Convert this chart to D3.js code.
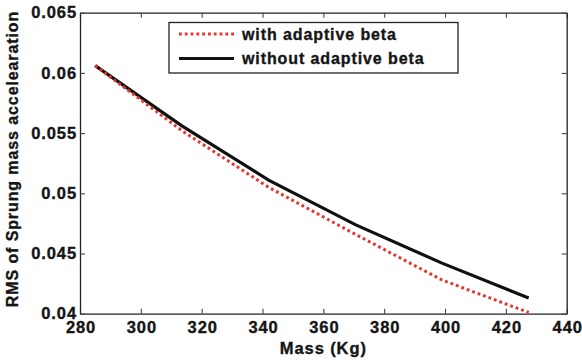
<!DOCTYPE html>
<html>
<head>
<meta charset="utf-8">
<script src="https://cdn.jsdelivr.net/npm/d3@7"></script>
<style>
  body { margin: 0; background: #fff; }
  svg text { font-family: "Liberation Sans", Arial, sans-serif; font-weight: bold; fill: #151515; stroke: #151515; stroke-width: 0.35px; letter-spacing: 0.9px; }
</style>
</head>
<body>
<div id="chart"></div>
<script>
// Data
const mass = [285, 313.5, 342, 370.5, 399, 427.5];
const withAdaptive = [0.0606, 0.0552, 0.0505, 0.0466, 0.0428, 0.0401];
const withoutAdaptive = [0.0606, 0.0556, 0.0511, 0.0474, 0.0442, 0.0413];
const xTicks = [280, 300, 320, 340, 360, 380, 400, 420, 440];
const yTicks = [0.04, 0.045, 0.05, 0.055, 0.06, 0.065];
const seriesNames = ["with adaptive beta", "without adaptive beta"];

const width = 582, height = 360;
const plotLeft = 80, plotRight = 566.7, plotTop = 12.7, plotBottom = 313.7;

const svg = d3.select("#chart").append("svg")
  .attr("width", width)
  .attr("height", height);

const x = d3.scaleLinear().domain([280, 440]).range([plotLeft, plotRight]);
const y = d3.scaleLinear().domain([0.04, 0.065]).range([plotBottom, plotTop]);

const fmt = d => String(+d.toFixed(3));

// axes, MATLAB style: box with inward ticks on all sides
const axisStyle = g => {
  g.select(".domain").attr("stroke", "#222").attr("stroke-width", 1.3);
  g.selectAll(".tick line").attr("stroke", "#444").attr("stroke-width", 1.1);
};

svg.append("g")
  .attr("transform", `translate(0,${plotBottom})`)
  .call(d3.axisBottom(x).tickValues(xTicks).tickSizeInner(-5).tickSizeOuter(0).tickPadding(8))
  .call(axisStyle)
  .call(g => g.selectAll(".tick text").attr("font-size", 16.5).attr("dx", "0.5px"));

svg.append("g")
  .attr("transform", `translate(0,${plotTop})`)
  .call(d3.axisTop(x).tickValues(xTicks).tickSizeInner(-5).tickSizeOuter(0).tickFormat(""))
  .call(axisStyle);

svg.append("g")
  .attr("transform", `translate(${plotLeft},0)`)
  .call(d3.axisLeft(y).tickValues(yTicks).tickSizeInner(-5).tickSizeOuter(0).tickPadding(3).tickFormat(fmt))
  .call(axisStyle)
  .call(g => g.selectAll(".tick text").attr("font-size", 16.5));

svg.append("g")
  .attr("transform", `translate(${plotRight},0)`)
  .call(d3.axisRight(y).tickValues(yTicks).tickSizeInner(-5).tickSizeOuter(0).tickFormat(""))
  .call(axisStyle);

// lines
const line = vals => d3.line()
  .x((d, i) => x(mass[i]))
  .y(d => y(d))(vals);

svg.append("path")
  .attr("d", line(withoutAdaptive))
  .attr("fill", "none")
  .attr("stroke", "#111")
  .attr("stroke-width", 3.2);

svg.append("path")
  .attr("d", line(withAdaptive))
  .attr("fill", "none")
  .attr("stroke", "#e8332c")
  .attr("stroke-width", 3)
  .attr("stroke-dasharray", "2.8,3");

// legend
const legend = svg.append("g");
legend.append("rect")
  .attr("x", 169).attr("y", 22.5)
  .attr("width", 289).attr("height", 50.5)
  .attr("fill", "#fff").attr("stroke", "#222").attr("stroke-width", 1.3);

const legendItems = [
  { name: seriesNames[0], color: "#e8332c", dash: "2.8,3", w: 3, yy: 34 },
  { name: seriesNames[1], color: "#111", dash: null, w: 3.2, yy: 58.5 }
];
legendItems.forEach(it => {
  legend.append("line")
    .attr("x1", 179).attr("x2", 234)
    .attr("y1", it.yy).attr("y2", it.yy)
    .attr("stroke", it.color).attr("stroke-width", it.w)
    .attr("stroke-dasharray", it.dash);
  legend.append("text")
    .attr("x", 242).attr("y", it.yy + 5.5)
    .attr("font-size", 16)
    .text(it.name);
});

// axis titles
svg.append("text")
  .attr("x", (plotLeft + plotRight) / 2).attr("y", 354)
  .attr("text-anchor", "middle")
  .attr("font-size", 16.5)
  .text("Mass (Kg)");

svg.append("text")
  .attr("transform", `translate(18,159) rotate(-90)`)
  .attr("text-anchor", "middle")
  .attr("font-size", 16)
  .text("RMS of Sprung mass accelearation");
</script>
</body>
</html>
